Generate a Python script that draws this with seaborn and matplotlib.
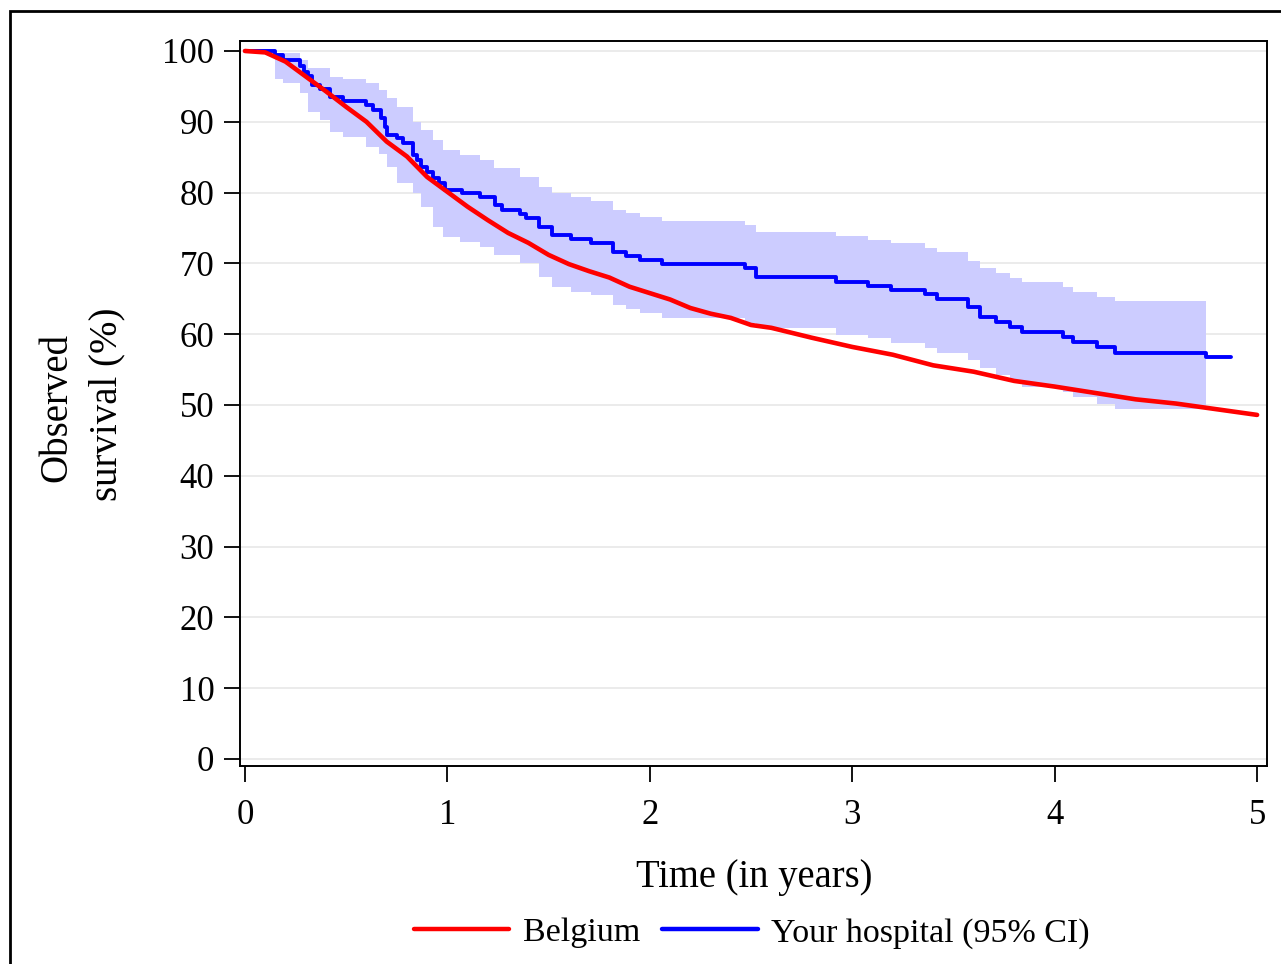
import numpy as np
import pandas as pd
import matplotlib
matplotlib.use("Agg")
import matplotlib.pyplot as plt
from matplotlib.lines import Line2D
from matplotlib.patches import Rectangle
import seaborn as sns

sns.set_style("white")
plt.rcParams["font.family"] = ["Liberation Serif", "DejaVu Serif"]
plt.rcParams["text.color"] = "black"
plt.rcParams["xtick.color"] = "black"
plt.rcParams["ytick.color"] = "black"
plt.rcParams["xtick.bottom"] = True
plt.rcParams["ytick.left"] = True

# data (time in years, survival in %)
red_t = [0.0, 0.1, 0.2, 0.3, 0.4, 0.5, 0.6, 0.7, 0.8, 0.9, 1.0, 1.1, 1.2, 1.3, 1.4,
         1.5, 1.6, 1.7, 1.8, 1.9, 2.0, 2.1, 2.2, 2.3, 2.4, 2.5, 2.6, 2.7, 2.8, 3.0,
         3.2, 3.4, 3.6, 3.8, 4.0, 4.2, 4.4, 4.6, 4.8, 5.0]
red_s = [100, 99.8, 98.5, 96.4, 94.3, 92.1, 90.0, 87.2, 85.1, 82.2, 80.1, 78.0, 76.1, 74.3, 72.9,
         71.2, 69.9, 68.9, 68.0, 66.7, 65.8, 64.9, 63.7, 62.9, 62.3, 61.3, 60.9, 60.2, 59.5, 58.2,
         57.1, 55.6, 54.7, 53.4, 52.6, 51.7, 50.8, 50.2, 49.4, 48.6]

blue_t = [0.0, 0.148, 0.19, 0.27, 0.29, 0.31, 0.33, 0.37, 0.42, 0.485,
          0.60, 0.63, 0.67, 0.69, 0.70, 0.75, 0.78, 0.83, 0.85, 0.87,
          0.90, 0.93, 0.96, 0.99, 1.07, 1.16, 1.235, 1.27, 1.36, 1.39,
          1.45, 1.515, 1.61, 1.71, 1.82, 1.88, 1.95, 2.06, 2.47, 2.525,
          2.92, 3.08, 3.19, 3.36, 3.42, 3.57, 3.63, 3.71, 3.78, 3.84,
          4.04, 4.09, 4.21, 4.30, 4.75, 4.87]
blue_s = [100, 99.4, 98.7, 97.9, 97.1, 96.5, 95.2, 94.7, 93.5, 92.9,
          92.4, 91.7, 90.5, 89.3, 88.1, 87.7, 87.0, 85.3, 84.6, 83.6,
          82.9, 82.1, 81.4, 80.4, 79.9, 79.4, 78.2, 77.5, 77.0, 76.4,
          75.2, 74.0, 73.4, 72.9, 71.6, 71.0, 70.5, 69.9, 69.3, 68.1,
          67.4, 66.8, 66.2, 65.7, 65.0, 63.8, 62.4, 61.7, 61.0, 60.3,
          59.6, 58.9, 58.2, 57.4, 56.8, 56.8]

ci_t = [0.148, 0.19, 0.27, 0.31, 0.37, 0.42, 0.485, 0.60, 0.66, 0.70,
        0.75, 0.83, 0.87, 0.93, 0.98, 1.06, 1.16, 1.23, 1.36, 1.45,
        1.515, 1.61, 1.71, 1.82, 1.88, 1.95, 2.06, 2.47, 2.525, 2.92,
        3.08, 3.19, 3.36, 3.42, 3.57, 3.63, 3.71, 3.78, 3.84, 4.04,
        4.09, 4.21, 4.30, 4.75]
ci_upper = [99.7, 99.7, 98.7, 97.6, 97.6, 96.3, 96.0, 95.5, 94.5, 93.4,
            92.1, 90.0, 88.8, 87.4, 86.0, 85.3, 84.6, 83.5, 82.2, 80.8,
            79.9, 79.4, 78.8, 77.5, 77.1, 76.6, 76.0, 75.4, 74.5, 73.9,
            73.3, 72.9, 72.2, 71.6, 70.3, 69.3, 68.6, 67.9, 67.4, 66.7,
            66.0, 65.3, 64.7, 64.7]
ci_lower = [96.0, 95.5, 94.1, 91.4, 90.3, 88.6, 87.9, 86.4, 85.5, 83.6,
            81.4, 79.9, 78.0, 75.2, 73.7, 73.0, 72.3, 71.2, 70.1, 68.1,
            66.7, 66.0, 65.5, 64.1, 63.6, 63.0, 62.3, 61.6, 60.9, 59.9,
            59.5, 58.8, 58.1, 57.3, 56.4, 55.2, 54.3, 53.5, 52.6, 51.8,
            51.1, 50.2, 49.4, 49.4]

df_red = pd.DataFrame({"t": red_t, "s": red_s})
df_blue = pd.DataFrame({"t": blue_t, "s": blue_s})

W, H = 1281, 964
fig = plt.figure(figsize=(W / 100, H / 100), dpi=100)
ax = fig.add_axes([240 / W, 1 - 766 / H, 1027 / W, 725 / H])

# confidence band
ax.fill_between(ci_t, ci_lower, ci_upper, step="post", color="#CCCCFF", lw=0, zorder=1)

sns.lineplot(data=df_blue, x="t", y="s", ax=ax, color="#0000FF", lw=2.8,
             drawstyle="steps-post", sort=False, estimator=None, zorder=3)
sns.lineplot(data=df_red, x="t", y="s", ax=ax, color="#FF0000", lw=3.3,
             sort=False, estimator=None, zorder=4)

ax.set_xlim(-0.0247, 5.049)
ax.set_ylim(-0.99, 101.41)
ax.set_xticks(range(0, 6))
ax.set_yticks(range(0, 101, 10))
ax.yaxis.grid(True, color="#E8E8E8", lw=1.2, zorder=0)
ax.xaxis.grid(False)
ax.set_axisbelow(True)
for sp in ax.spines.values():
    sp.set_visible(True)
    sp.set_color("black")
    sp.set_linewidth(1.4)
ax.tick_params(axis="both", direction="out", length=11.5, width=1.3, color="black",
               labelsize=25, labelcolor="black", bottom=True, left=True)
ax.tick_params(axis="y", pad=7)
ax.tick_params(axis="x", pad=12)

ax.set_xlabel("")
ax.set_ylabel("")
fig.text(754 / W, 1 - 878 / H, "Time (in years)", ha="center", va="center", fontsize=27.8)
fig.text(57 / W, 1 - 408 / H, "Observed", rotation=90, ha="center", va="center", fontsize=28)
fig.text(107 / W, 1 - 404 / H, "survival (%)", rotation=90, ha="center", va="center", fontsize=28)

handles = [Line2D([], [], color="#FF0000", lw=3.2), Line2D([], [], color="#0000FF", lw=3.2)]
fig.legend(handles, ["Belgium", "Your hospital (95% CI)"], loc="center",
           bbox_to_anchor=(752 / W, 1 - 933 / H), ncol=2, frameon=False, fontsize=24.5,
           handlelength=2.8, handletextpad=0.4, columnspacing=0.65)

# outer frame (cut off at the right and bottom edges)
fig.patches.append(Rectangle((10 / W, -0.1), 1.2, (H - 11) / H + 0.1, transform=fig.transFigure,
                             fill=False, lw=2, edgecolor="black"))

fig.savefig("out.png", dpi=100)
